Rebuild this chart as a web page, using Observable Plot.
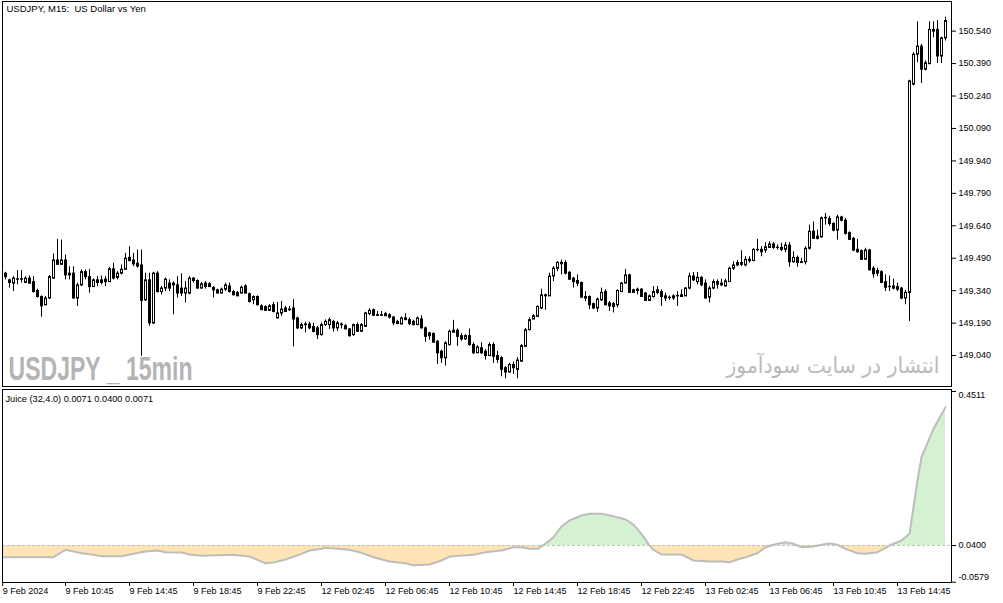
<!DOCTYPE html>
<html>
<head>
<meta charset="utf-8">
<script src="https://cdn.jsdelivr.net/npm/d3@7"></script>
<script src="https://cdn.jsdelivr.net/npm/@observablehq/plot@0.6"></script>
<style>
  body { margin: 0; background: #fff; overflow: hidden; }
  #chart svg { display: block; }
</style>
</head>
<body>
<div id="chart"></div>
<script>
// USDJPY M15 candles, bar index 0..235
const opens = [
  149.421,149.390,149.375,149.393,149.395,149.378,149.398,149.382,149.341,149.313,
  149.275,149.306,149.398,149.482,149.462,149.482,149.421,149.421,149.306,149.367,
  149.428,149.405,149.359,149.390,149.378,149.393,149.382,149.441,149.401,149.421,
  149.439,149.494,149.482,149.467,149.459,149.298,149.390,149.191,149.421,149.336,
  149.352,149.375,149.367,149.367,149.352,149.329,149.329,149.398,149.387,149.352,
  149.375,149.372,149.355,149.344,149.329,149.347,149.362,149.336,149.332,149.329,
  149.362,149.326,149.298,149.313,149.270,149.267,149.249,149.275,149.214,149.237,
  149.260,149.252,149.260,149.214,149.168,149.183,149.186,149.175,149.168,149.137,
  149.183,149.183,149.198,149.168,149.186,149.178,149.163,149.137,149.183,149.152,
  149.175,149.234,149.252,149.229,149.226,149.234,149.229,149.218,149.198,149.186,
  149.214,149.206,149.198,149.183,149.209,149.168,149.145,149.142,149.106,149.060,
  149.030,149.091,149.157,149.157,149.132,149.117,149.132,149.091,149.053,149.076,
  149.060,149.040,149.091,149.040,149.030,148.984,148.964,148.999,148.976,149.014,
  149.083,149.160,149.209,149.221,149.260,149.321,149.316,149.408,149.444,149.471,
  149.470,149.425,149.398,149.387,149.378,149.313,149.313,149.280,149.260,149.298,
  149.336,149.283,149.267,149.275,149.336,149.375,149.413,149.332,149.347,149.347,
  149.329,149.295,149.313,149.344,149.336,149.316,149.310,149.306,149.316,149.313,
  149.316,149.352,149.408,149.382,149.402,149.375,149.310,149.352,149.382,149.367,
  149.362,149.382,149.444,149.459,149.462,149.459,149.485,149.479,149.531,149.531,
  149.528,149.540,149.556,149.540,149.540,149.531,149.551,149.474,149.494,149.474,
  149.474,149.536,149.615,149.582,149.589,149.677,149.674,149.651,149.620,149.681,
  149.666,149.608,149.582,149.531,149.525,149.485,149.528,149.444,149.433,149.428,
  149.382,149.359,149.362,149.359,149.352,149.306,149.332,150.295,150.433,150.471,
  150.364,150.390,150.548,150.548,150.425,150.509
];
const highs = [
  149.425,149.393,149.405,149.433,149.433,149.405,149.408,149.405,149.347,149.316,
  149.313,149.410,149.510,149.577,149.574,149.505,149.451,149.451,149.375,149.436,
  149.436,149.439,149.395,149.405,149.408,149.405,149.448,149.467,149.428,149.459,
  149.513,149.543,149.513,149.528,149.528,149.421,149.421,149.425,149.428,149.359,
  149.398,149.390,149.382,149.405,149.418,149.382,149.405,149.401,149.390,149.378,
  149.382,149.378,149.359,149.347,149.352,149.375,149.375,149.340,149.336,149.362,
  149.367,149.329,149.316,149.316,149.275,149.270,149.275,149.286,149.286,149.290,
  149.267,149.267,149.298,149.218,149.190,149.194,149.194,149.190,149.175,149.190,
  149.205,149.214,149.203,149.198,149.191,149.183,149.165,149.186,149.191,149.188,
  149.240,149.257,149.255,149.244,149.244,149.240,149.234,149.221,149.203,149.218,
  149.234,149.214,149.203,149.218,149.224,149.172,149.148,149.145,149.110,149.065,
  149.104,149.157,149.203,149.163,149.142,149.137,149.163,149.099,149.086,149.099,
  149.068,149.099,149.099,149.060,149.035,148.990,149.004,149.010,149.030,149.091,
  149.165,149.214,149.229,149.270,149.347,149.324,149.421,149.451,149.474,149.482,
  149.479,149.428,149.402,149.413,149.380,149.336,149.316,149.283,149.306,149.352,
  149.344,149.290,149.286,149.344,149.378,149.439,149.416,149.347,149.352,149.350,
  149.332,149.320,149.359,149.359,149.344,149.329,149.316,149.321,149.336,149.344,
  149.355,149.421,149.424,149.424,149.405,149.390,149.359,149.390,149.390,149.393,
  149.393,149.448,149.474,149.479,149.525,149.497,149.497,149.534,149.577,149.543,
  149.562,149.566,149.562,149.551,149.559,149.562,149.562,149.520,149.500,149.490,
  149.543,149.643,149.658,149.620,149.681,149.697,149.684,149.654,149.689,149.684,
  149.674,149.612,149.586,149.577,149.528,149.536,149.531,149.451,149.444,149.433,
  149.413,149.408,149.393,149.375,149.356,149.341,150.313,150.440,150.583,150.479,
  150.402,150.583,150.583,150.589,150.512,150.604
];
const lows = [
  149.390,149.352,149.336,149.367,149.375,149.375,149.370,149.329,149.306,149.218,
  149.270,149.301,149.395,149.459,149.459,149.390,149.390,149.301,149.267,149.359,
  149.390,149.329,149.355,149.359,149.367,149.359,149.380,149.390,149.390,149.413,
  149.436,149.474,149.451,149.444,149.037,149.290,149.175,149.183,149.329,149.320,
  149.336,149.336,149.229,149.306,149.313,149.283,149.321,149.375,149.347,149.347,
  149.347,149.355,149.306,149.326,149.326,149.336,149.329,149.316,149.313,149.326,
  149.326,149.283,149.275,149.270,149.249,149.244,149.244,149.237,149.209,149.221,
  149.240,149.244,149.080,149.160,149.160,149.145,149.160,149.145,149.114,149.130,
  149.175,149.160,149.148,149.152,149.163,149.160,149.125,149.129,149.148,149.148,
  149.172,149.224,149.221,149.221,149.221,149.221,149.209,149.178,149.183,149.183,
  149.203,149.178,149.178,149.180,149.163,149.102,149.111,149.099,148.999,149.004,
  148.991,149.083,149.145,149.083,149.106,149.111,149.083,149.045,149.050,149.045,
  149.019,149.037,149.004,149.004,148.942,148.933,148.960,148.953,148.933,149.010,
  149.080,149.155,149.206,149.218,149.252,149.249,149.313,149.382,149.428,149.413,
  149.413,149.390,149.352,149.359,149.306,149.290,149.252,149.252,149.240,149.290,
  149.270,149.244,149.237,149.260,149.332,149.372,149.329,149.329,149.321,149.310,
  149.290,149.292,149.306,149.321,149.267,149.290,149.295,149.295,149.267,149.310,
  149.313,149.344,149.382,149.367,149.359,149.301,149.283,149.344,149.347,149.359,
  149.356,149.378,149.433,149.451,149.451,149.451,149.467,149.476,149.520,149.497,
  149.513,149.536,149.531,149.528,149.520,149.516,149.448,149.467,149.448,149.467,
  149.459,149.528,149.577,149.574,149.582,149.643,149.638,149.612,149.574,149.658,
  149.597,149.574,149.520,149.513,149.482,149.482,149.433,149.398,149.405,149.375,
  149.336,149.336,149.344,149.336,149.298,149.275,149.198,150.287,150.394,150.298,
  150.356,150.384,150.509,150.390,150.390,150.494
];
const closes = [
  149.405,149.378,149.398,149.395,149.393,149.398,149.375,149.336,149.313,149.270,
  149.306,149.405,149.482,149.462,149.482,149.413,149.413,149.306,149.367,149.428,
  149.405,149.359,149.390,149.378,149.390,149.382,149.441,149.398,149.421,149.439,
  149.490,149.479,149.464,149.454,149.295,149.390,149.191,149.421,149.336,149.352,
  149.393,149.352,149.375,149.329,149.329,149.352,149.398,149.387,149.352,149.372,
  149.359,149.359,149.344,149.329,149.347,149.367,149.336,149.321,149.316,149.356,
  149.329,149.290,149.313,149.275,149.252,149.249,149.270,149.244,149.237,149.255,
  149.244,149.255,149.209,149.168,149.183,149.186,149.168,149.152,149.137,149.183,
  149.198,149.206,149.168,149.191,149.183,149.163,149.132,149.183,149.152,149.183,
  149.237,149.249,149.226,149.226,149.229,149.224,149.218,149.191,149.188,149.214,
  149.206,149.188,149.183,149.214,149.168,149.129,149.132,149.102,149.053,149.030,
  149.099,149.152,149.148,149.129,149.117,149.132,149.091,149.053,149.080,149.053,
  149.040,149.091,149.037,149.022,148.976,148.964,148.999,148.984,149.019,149.086,
  149.160,149.206,149.224,149.267,149.321,149.316,149.408,149.444,149.471,149.464,
  149.421,149.393,149.382,149.375,149.310,149.306,149.275,149.260,149.301,149.332,
  149.275,149.270,149.280,149.341,149.375,149.413,149.332,149.344,149.341,149.313,
  149.295,149.316,149.336,149.332,149.313,149.306,149.308,149.316,149.318,149.321,
  149.352,149.408,149.390,149.402,149.367,149.306,149.352,149.382,149.370,149.375,
  149.385,149.444,149.459,149.470,149.470,149.485,149.479,149.531,149.529,149.520,
  149.543,149.556,149.540,149.541,149.531,149.551,149.474,149.494,149.470,149.470,
  149.536,149.615,149.582,149.592,149.677,149.679,149.651,149.620,149.681,149.666,
  149.605,149.577,149.528,149.520,149.485,149.528,149.436,149.418,149.421,149.378,
  149.356,149.360,149.352,149.347,149.306,149.332,150.310,150.433,150.471,150.364,
  150.394,150.548,150.540,150.425,150.509,150.589
];

// Juice (32,4.0)
const juiceLevel = 0.04;
const juiceBars = [-0.75,4,10,12,14,15,17,19,22,24,29,32,35,38,40,44,46,49,57,61,
  63,65,67,70,74,76,79,80,86,89,92,96,100,102,106,109,111,117,120,124,
  127,129,131,133,135,137,139,141,144,146,149,152,155,157,159,161,162,164,169,172,
  176,179,181,183,185,188,190,193,195,197,199,202,204,206,208,210,213,215,218,221,
  224,226,228,229,232,235];
const juiceValues = [0.0088,0.0088,0.0088,0.0088,0.0221,0.0285,0.0240,0.0194,0.0152,0.0114,
  0.0114,0.0178,0.0240,0.0267,0.0221,0.0213,0.0160,0.0125,0.0152,0.0106,
  0.0018,-0.0072,-0.0054,0.0026,0.0178,0.0267,0.0312,0.0339,0.0285,0.0205,
  0.0088,-0.0027,-0.0072,-0.0126,-0.0107,0.0000,0.0106,0.0152,0.0221,0.0267,
  0.0355,0.0355,0.0312,0.0312,0.0445,0.0622,0.0907,0.1067,0.1201,0.1246,
  0.1246,0.1182,0.1094,0.0960,0.0712,0.0400,0.0285,0.0160,0.0160,0.0000,
  -0.0027,-0.0027,-0.0046,0.0026,0.0088,0.0194,0.0355,0.0445,0.0488,0.0445,
  0.0355,0.0373,0.0419,0.0453,0.0419,0.0312,0.0194,0.0178,0.0221,0.0400,
  0.0533,0.0712,0.2135,0.2757,0.3515,0.4091];

// axes
const priceTicks = [149.04,149.19,149.34,149.49,149.64,149.79,149.94,150.09,150.24,150.39,150.54];
const juiceTicks = [0.4511, 0.04, -0.0579];
const timeTickBars = [-0.7,15,31,47,63,79,95,111,127,143,159,175,191,207,223];
const timeTickLabels = ["9 Feb 2024","9 Feb 10:45","9 Feb 14:45","9 Feb 18:45","9 Feb 22:45",
  "12 Feb 02:45","12 Feb 06:45","12 Feb 10:45","12 Feb 14:45","12 Feb 18:45","12 Feb 22:45",
  "13 Feb 02:45","13 Feb 06:45","13 Feb 10:45","13 Feb 14:45"];

const symbolTitle = "USDJPY, M15:\u00a0 US Dollar vs Yen";
const juiceTitle = "Juice (32,4.0) 0.0071 0.0400 0.0071";
const watermarkLeft = "USDJPY _ 15min";
const watermarkRight = "انتشار در سایت سودآموز";

const bars = opens.map((o, i) => ({i, o, h: highs[i], l: lows[i], c: closes[i]}));
const juice = juiceBars.map((i, k) => ({i, v: juiceValues[k]}));
const labelOf = new Map(timeTickBars.map((b, k) => [b, timeTickLabels[k]]));

const W = 1003;
const xDomain = [-0.75, 236.5];
const baseStyle = {fontFamily: "'Liberation Sans', Arial, sans-serif", fontSize: "9px", background: "#fff", color: "#000"};

const main = Plot.plot({
  width: W,
  height: 388,
  marginLeft: 2,
  marginRight: 52,
  marginTop: 1,
  marginBottom: 2,
  style: baseStyle,
  x: {domain: xDomain, axis: null},
  y: {domain: [148.897, 150.677], label: null},
  marks: [
    Plot.text([watermarkLeft], {text: d => d, frameAnchor: "bottom-left", dx: 6, dy: -7, lineAnchor: "bottom", textAnchor: "start",
      fontSize: 34, fontWeight: "bold", fontFamily: "'Liberation Sans', Arial, sans-serif", fill: "#B4B4B4"}),
    Plot.text([watermarkRight], {text: d => d, frameAnchor: "bottom-right", dx: -12, dy: -14, lineAnchor: "bottom", textAnchor: "end",
      fontSize: 22, fontFamily: "'DejaVu Sans', sans-serif", fill: "#BBBBBB"}),
    Plot.ruleX(bars, {x: "i", y1: "l", y2: "h", stroke: "#000", strokeWidth: 1}),
    Plot.rect(bars, {x1: d => d.i - 0.25, x2: d => d.i + 0.25, y1: "o", y2: "c", dx: 0.5, dy: 0.5,
      fill: d => d.c >= d.o ? "#fff" : "#000", stroke: "#000", strokeWidth: 1}),
    Plot.frame({stroke: "#000"}),
    Plot.axisY(priceTicks, {anchor: "right", tickSize: 4, tickPadding: 3, label: null, tickFormat: d => d.toFixed(3)}),
    Plot.text([symbolTitle], {text: d => d, frameAnchor: "top-left", dx: 4, dy: 4, lineAnchor: "top", textAnchor: "start", fontSize: 9.5, fill: "#000"})
  ]
});

const indicator = Plot.plot({
  width: W,
  height: 215,
  marginLeft: 2,
  marginRight: 52,
  marginTop: 1,
  marginBottom: 21,
  style: baseStyle,
  x: {domain: xDomain, label: null},
  y: {domain: [-0.0587, 0.4564], label: null},
  marks: [
    Plot.areaY(juice, {x: "i", y1: () => juiceLevel, y2: d => Math.min(d.v, juiceLevel), fill: "#FFE4B5"}),
    Plot.areaY(juice, {x: "i", y1: () => juiceLevel, y2: d => Math.max(d.v, juiceLevel), fill: "#D4F2D2"}),
    Plot.ruleY([juiceLevel], {stroke: "#C0C0C0", strokeDasharray: "3,2"}),
    Plot.line(juice, {x: "i", y: "v", stroke: "#BDBDBD", strokeWidth: 2}),
    Plot.frame({stroke: "#000"}),
    Plot.axisY(juiceTicks, {anchor: "right", tickSize: 4, label: null, tickFormat: () => ""}),
    Plot.text([juiceTicks[0]], {y: d => d, text: d => d.toFixed(4), frameAnchor: "right", dx: 7, dy: 3.5, textAnchor: "start"}),
    Plot.text([juiceTicks[1]], {y: d => d, text: d => d.toFixed(4), frameAnchor: "right", dx: 7, dy: 0, textAnchor: "start"}),
    Plot.text([juiceTicks[2]], {y: d => d, text: d => d.toFixed(4), frameAnchor: "right", dx: 7, dy: -5, textAnchor: "start"}),
    Plot.axisX(timeTickBars, {anchor: "bottom", tickSize: 4, tickPadding: 1, label: null, textAnchor: "start",
      tickFormat: d => labelOf.get(d)}),
    Plot.text([juiceTitle], {text: d => d, frameAnchor: "top-left", dx: 3, dy: 6, lineAnchor: "top", textAnchor: "start", fontSize: 9.2, fill: "#000"})
  ]
});

// squeeze both watermarks to their width in the reference
d3.select(main).selectAll("text")
  .filter(function() { return this.textContent === watermarkLeft; })
  .attr("textLength", 184).attr("lengthAdjust", "spacingAndGlyphs");
d3.select(main).selectAll("text")
  .filter(function() { return this.textContent === watermarkRight; })
  .attr("textLength", 213).attr("lengthAdjust", "spacingAndGlyphs");

const root = document.getElementById("chart");
root.append(main);
root.append(indicator);
</script>
</body>
</html>
